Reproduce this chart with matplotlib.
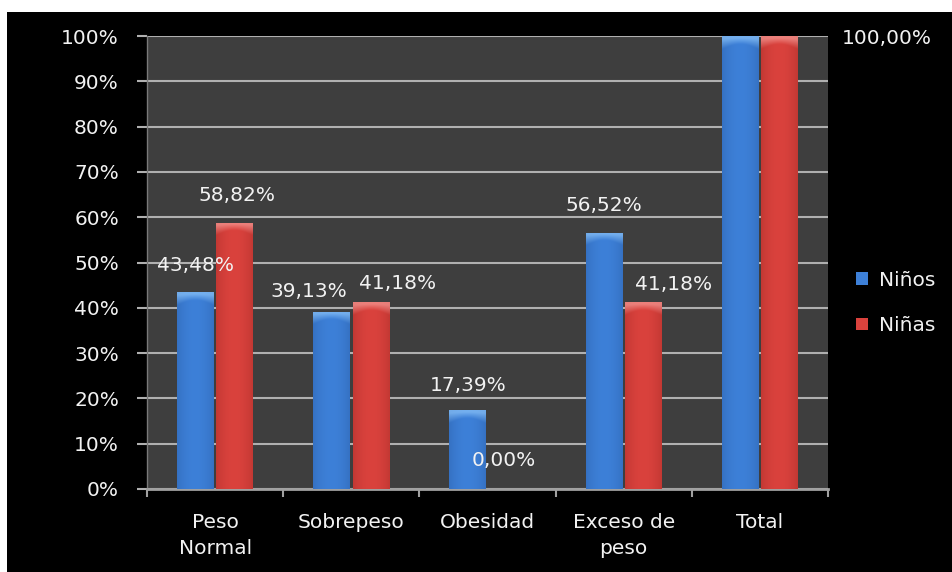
import numpy as np
import matplotlib
matplotlib.use("Agg")
import matplotlib.pyplot as plt
from matplotlib.patches import Rectangle, Patch
from matplotlib.colors import to_rgb

# ---- data -------------------------------------------------------------
categories = ["Peso\nNormal", "Sobrepeso", "Obesidad", "Exceso de\npeso", "Total"]
series_names = ["Niños", "Niñas"]
ninos = [43.48, 39.13, 17.39, 56.52, 100.00]
ninas = [58.82, 41.18, 0.00, 41.18, 100.00]
y_ticks = [0, 10, 20, 30, 40, 50, 60, 70, 80, 90, 100]

# ---- layout / style ---------------------------------------------------
# label offsets in pixels from the top centre of each bar (None = no label)
ninos_label_offsets = [(0, 27), (-23, 20), (0, 25), (0, 27), None]
ninas_label_offsets = [(2, 27), (27, 19), (-3, 29), (30, 18), (107, -2)]

FONT = "DejaVu Sans"
FS = 14.5
TXT = "#f2f2f2"
PLOT_BG = "#3e3e3e"
GRID = "#b0b0b0"

blue = dict(base=to_rgb("#3d80d8"), dark=to_rgb("#2f66b2"), light=to_rgb("#86bff6"))
red = dict(base=to_rgb("#da423d"), dark=to_rgb("#b0302c"), light=to_rgb("#f39590"))

W, H, DPI = 952, 572, 100
fig = plt.figure(figsize=(W / DPI, H / DPI), dpi=DPI, facecolor="black")
# white margins along the top and left edge
fig.patches.append(Rectangle((0, 1 - 12 / H), 1, 12 / H, transform=fig.transFigure,
                             facecolor="white", edgecolor="none", zorder=-5))
fig.patches.append(Rectangle((0, 0), 7 / W, 1, transform=fig.transFigure,
                             facecolor="white", edgecolor="none", zorder=-5))

left, right, bottom, top = 147 / W, 828 / W, 1 - 489 / H, 1 - 36 / H
ax = fig.add_axes([left, bottom, right - left, top - bottom])
ax.set_facecolor(PLOT_BG)

x = np.arange(len(categories))
width = 0.27
offset = 0.145
ax.set_xlim(-0.5, len(categories) - 0.5)
ax.set_ylim(0, 100)

px_per_unit = (489 - 36) / 100.0


def shaded_bar(xc, h, style):
    rect = ax.bar(xc, h, width, color=style["base"], linewidth=0, zorder=3)[0]
    if h <= 0:
        return rect
    nx = 60
    ny = max(60, int(h * px_per_unit) * 2)
    t = np.linspace(0, 1, nx)
    prof = np.sin(np.pi * (0.1 + 0.8 * t)) ** 0.7
    base = np.array(style["base"])
    dark = np.array(style["dark"])
    light = np.array(style["light"])
    cols = dark[None, :] * (1 - prof[:, None]) + base[None, :] * prof[:, None]
    img = np.repeat(cols[None, :, :], ny, axis=0)
    yy = np.linspace(0, h, ny)
    # lighter rounded cap at the top of the bar
    depth = (10 - 4 * np.sin(np.pi * t)) / px_per_unit
    dist = (h - yy[:, None]) / depth[None, :]
    wgt = np.clip(1.3 - dist, 0, 1) * 0.75
    img = img * (1 - wgt[:, :, None]) + light[None, None, :] * wgt[:, :, None]
    x0 = xc - width / 2
    im = ax.imshow(img, extent=[x0, x0 + width, 0, h], origin="lower",
                   aspect="auto", interpolation="bilinear", zorder=3)
    im.set_clip_path(rect)
    return rect


def fmt(v):
    return f"{v:.2f}".replace(".", ",") + "%"


for values, style, sign, offsets in [(ninos, blue, -1, ninos_label_offsets),
                                     (ninas, red, 1, ninas_label_offsets)]:
    for xi, v, off in zip(x, values, offsets):
        xc = xi + sign * offset
        shaded_bar(xc, v, style)
        if off is not None:
            ax.annotate(fmt(v), xy=(xc, v), xytext=off, textcoords="offset pixels",
                        ha="center", va="center", color=TXT, fontsize=FS,
                        family=FONT, annotation_clip=False, zorder=5)

ax.set_xlim(-0.5, len(categories) - 0.5)
ax.set_ylim(0, 100)

# y axis
ax.set_yticks(y_ticks)
ax.set_yticklabels([f"{t}%" for t in y_ticks], family=FONT, fontsize=FS, color=TXT)
ax.tick_params(axis="y", length=7.2, width=1.5, color=GRID, pad=13)
ax.yaxis.grid(True, color=GRID, linewidth=1.5, zorder=1)
ax.set_axisbelow(True)

# x axis: labels at the centres, tick marks between categories
ax.set_xticks(x)
ax.set_xticklabels(categories, family=FONT, fontsize=FS, color=TXT, linespacing=1.5)
ax.tick_params(axis="x", which="major", length=0, pad=17)
ax.set_xticks(np.arange(-0.5, len(categories), 1.0), minor=True)
ax.tick_params(axis="x", which="minor", length=6, width=1.5, color="#a0a0a0")

for s in ["top", "right"]:
    ax.spines[s].set_visible(False)
ax.spines["bottom"].set_color("#a0a0a0")
ax.spines["bottom"].set_linewidth(2)
ax.spines["left"].set_color("#7a7a7a")
ax.spines["left"].set_linewidth(1)

handles = [Patch(facecolor=blue["base"], edgecolor="none"),
           Patch(facecolor=red["base"], edgecolor="none")]
leg = fig.legend(handles, series_names, loc="center left",
                 bbox_to_anchor=(856 / W, 1 - 303 / H), frameon=False,
                 borderpad=0, borderaxespad=0,
                 prop={"family": FONT, "size": FS}, labelcolor=TXT,
                 handlelength=0.6, handleheight=0.6, handletextpad=0.55,
                 labelspacing=1.3)

fig.savefig("out.png", dpi=DPI, facecolor=fig.get_facecolor())
